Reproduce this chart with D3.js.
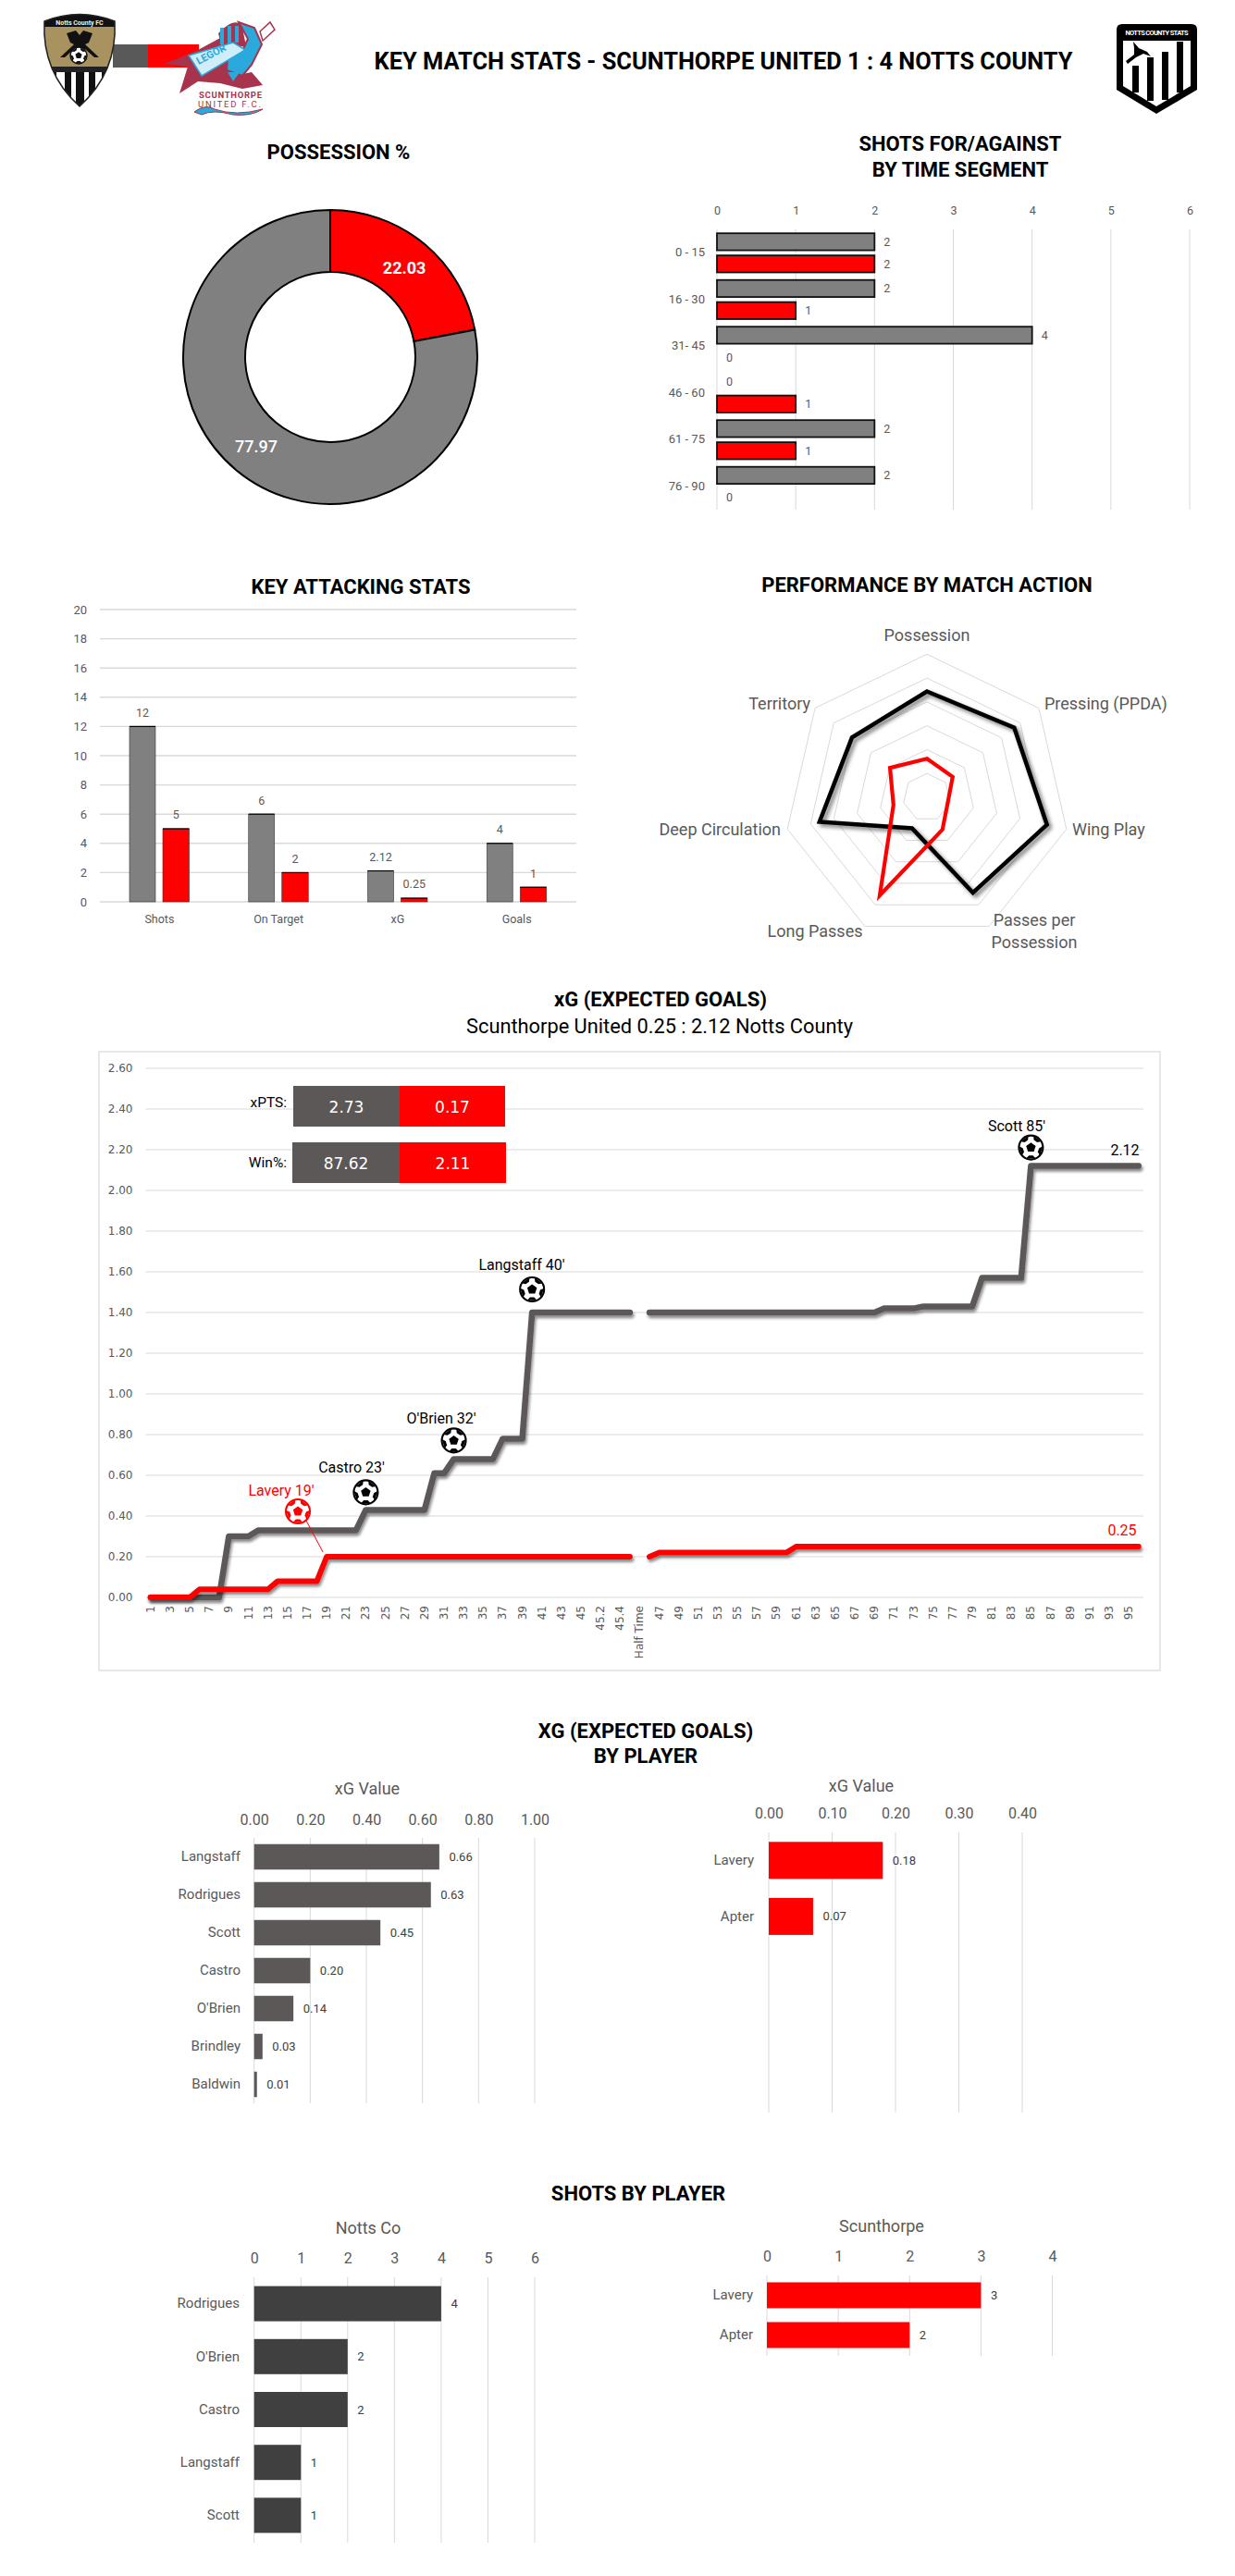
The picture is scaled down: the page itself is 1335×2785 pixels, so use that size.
<!DOCTYPE html>
<html><head><meta charset="utf-8">
<script src="https://cdn.jsdelivr.net/npm/d3@7/dist/d3.min.js"></script>
<style>
html,body{margin:0;padding:0;background:#fff}
svg{display:block}
text{font-family:Roboto,sans-serif}
</style></head><body>
<svg id="c" width="1335" height="2785"></svg>
<script>
// ---- data ----
const matchTitle = "KEY MATCH STATS - SCUNTHORPE UNITED 1 : 4 NOTTS COUNTY";
const possessionLabels = ["Scunthorpe","Notts County"];
const possessionValues = [22.03,77.97];
const segmentCats = ["0 - 15","16 - 30","31- 45","46 - 60","61 - 75","76 - 90"];
const segmentFor = [2,2,4,0,2,2];
const segmentAgainst = [2,1,0,1,1,0];
const segmentTicks = [0,1,2,3,4,5,6];
const attackCats = ["Shots","On Target","xG","Goals"];
const attackNotts = [12,6,2.12,4];
const attackScun = [5,2,0.25,1];
const attackTicks = [0,2,4,6,8,10,12,14,16,18,20];
const radarCats = ["Possession","Pressing (PPDA)","Wing Play","Passes per|Possession","Long Passes","Deep Circulation","Territory"];
const radarNotts = [74,78,86,74,24,77,67];
const radarScun = [27,23,15,25,76,24,33];
const radarRings = [1,2,3,4,5,6];
const minuteLabels = [
"1","2","3","4","5","6","7","8","9","10","11","12","13","14","15","16","17","18","19","20","21","22","23","24","25","26","27","28","29","30","31","32","33","34","35","36","37","38","39","40","41","42","43","44","45",
"45.1","45.2","45.3","45.4","45.5","Half Time",
"46","47","48","49","50","51","52","53","54","55","56","57","58","59","60","61","62","63","64","65","66","67","68","69","70","71","72","73","74","75","76","77","78","79","80","81","82","83","84","85","86","87","88","89","90","91","92","93","94","95","96"];
const xgNotts = [
0,0,0,0,0,0,0,0,.30,.30,.30,.33,.33,.33,.33,.33,.33,.33,.33,.33,.33,.33,.43,.43,.43,.43,.43,.43,.43,.61,.61,.68,.68,.68,.68,.68,.78,.78,.78,1.40,1.40,1.40,1.40,1.40,1.40,
1.40,1.40,1.40,1.40,1.40,null,
1.40,1.40,1.40,1.40,1.40,1.40,1.40,1.40,1.40,1.40,1.40,1.40,1.40,1.40,1.40,1.40,1.40,1.40,1.40,1.40,1.40,1.40,1.40,1.40,1.42,1.42,1.42,1.42,1.43,1.43,1.43,1.43,1.43,1.43,1.57,1.57,1.57,1.57,1.57,2.12,2.12,2.12,2.12,2.12,2.12,2.12,2.12,2.12,2.12,2.12,2.12];
const xgScun = [
0,0,0,0,0,
.04,.04,.04,.04,.04,.04,.04,.04,
.08,.08,.08,.08,.08,
.20,.20,.20,.20,.20,.20,.20,.20,.20,.20,.20,.20,.20,.20,.20,.20,.20,.20,.20,.20,.20,.20,.20,.20,.20,.20,.20,
.20,.20,.20,.20,.20,null,
.20,
.22,.22,.22,.22,.22,.22,.22,.22,.22,.22,.22,.22,.22,.22,
.25,.25,.25,.25,.25,.25,.25,.25,.25,.25,.25,.25,.25,.25,.25,.25,.25,.25,
.25,.25,.25,.25,.25,.25,.25,.25,.25,.25,.25,.25,.25,.25,.25,.25,.25,.25];
const xgTicks = [0,.2,.4,.6,.8,1,1.2,1.4,1.6,1.8,2,2.2,2.4,2.6];
const goalNames = ["Langstaff 40'","O'Brien 32'","Castro 23'","Scott 85'"];
const goalMinutes = ["40","32","23","85"];
const xpts = [2.73,0.17];
const winPct = [87.62,2.11];
const xgPlayersN = ["Langstaff","Rodrigues","Scott","Castro","O'Brien","Brindley","Baldwin"];
const xgPlayerValsN = [.66,.63,.45,.20,.14,.03,.01];
const xgPlayersS = ["Lavery","Apter"];
const xgPlayerValsS = [.18,.07];
const shotPlayersN = ["Rodrigues","O'Brien","Castro","Langstaff","Scott"];
const shotValsN = [4,2,2,1,1];
const shotPlayersS = ["Lavery","Apter"];
const shotValsS = [3,2];

const GREY="#808080", DGREY="#5d5858", DARK="#404040", RED="#ff0000", TXT="#595959", GRID="#d9d9d9";
const svg=d3.select("#c");
const defs=svg.append("defs");
const f=defs.append("filter").attr("id","sh").attr("filterUnits","userSpaceOnUse").attr("x",0).attr("y",0).attr("width",1335).attr("height",2785);
f.append("feDropShadow").attr("dx",1.5).attr("dy",3).attr("stdDeviation",1.6).attr("flood-color","#000").attr("flood-opacity",.45);
const fr=defs.append("filter").attr("id","shR").attr("x","-20%").attr("y","-20%").attr("width","140%").attr("height","140%");
fr.append("feDropShadow").attr("dx",3).attr("dy",3).attr("stdDeviation",2).attr("flood-color","#000").attr("flood-opacity",.5);

function T(x,y,s,size,opt={}){
  return svg.append("text").attr("x",x).attr("y",y).attr("dy",".35em").text(s)
   .attr("font-size",size).attr("fill",opt.fill||TXT).attr("text-anchor",opt.anchor||"middle")
   .attr("font-weight",opt.weight||400).style("font-family",opt.family||null);
}
function title(x,y,s,size=22){return T(x,y,s,size,{fill:"#000",weight:700});}
function ball(sel,cx,cy,r,col){
 const b=sel.append("g").attr("transform",`translate(${cx},${cy})`);
 b.append("circle").attr("r",r).attr("fill","#fff").attr("stroke",col).attr("stroke-width",r*.16);
 const pt=(rad,a)=>[rad*Math.sin(a),-rad*Math.cos(a)];
 const cen=d3.range(5).map(i=>pt(r*.42,i*2*Math.PI/5));
 b.append("polygon").attr("points",cen.join(" ")).attr("fill",col);
 d3.range(5).forEach(i=>{
  const a=i*2*Math.PI/5+Math.PI/5, s=.42;
  b.append("polygon").attr("points",[pt(r,a-s),pt(r*.68,a-s*.6),pt(r*.68,a+s*.6),pt(r,a+s)].join(" ")).attr("fill",col);
 });
}

// ---- header ----
title(782,66,matchTitle,25.4);
const lg=svg.append("g").attr("class","logos");
lg.append("rect").attr("x",122).attr("y",48).attr("width",38).attr("height",25).attr("fill","#595959");
lg.append("rect").attr("x",160).attr("y",48).attr("width",55).attr("height",25).attr("fill",RED);
const shield="M48,23 Q86,8 124,23 Q127,78 86,115 Q45,78 48,23Z";
defs.append("clipPath").attr("id","shc").append("path").attr("d",shield);
lg.append("path").attr("d",shield).attr("fill","#a8925f");
const cg=lg.append("g").attr("clip-path","url(#shc)");
cg.append("rect").attr("x",40).attr("y",10).attr("width",90).attr("height",19).attr("fill","#111");
cg.append("rect").attr("x",40).attr("y",76).attr("width",90).attr("height",45).attr("fill","#fff");
[54,70,82,96,110].forEach((x,i)=>cg.append("rect").attr("x",x).attr("y",76).attr("width",i==2?9:7).attr("height",45).attr("fill","#111"));
cg.append("rect").attr("x",40).attr("y",72).attr("width",90).attr("height",6).attr("fill","#222");
lg.append("path").attr("d",shield).attr("fill","none").attr("stroke","#222").attr("stroke-width",1.5);
lg.append("text").attr("x",86).attr("y",27).attr("text-anchor","middle").attr("font-size",7).attr("font-weight",700).attr("fill","#eee").text("Notts County FC");
lg.append("path").attr("d","M72,36 L82,33 L86,38 L90,33 L100,36 L96,46 L92,48 L107,62 L102,62 L92,53 L80,53 L70,62 L65,62 L80,48 L76,46Z").attr("fill","#111");
ball(lg,85,60,9,"#111");
const M="#a8334d",B="#2aa9dc";
lg.append("path").attr("d","M178,69 L214,54 L240,40 L246,70 L262,80 L272,78 L284,92 L262,96 L238,90 L214,88 L194,101 L203,72Z").attr("fill",M);
lg.append("path").attr("d","M258,24 L275,30 L283,48 L272,70 L262,82 L245,76 L246,62 L262,55 L268,42 Z").attr("fill",B).attr("stroke",M).attr("stroke-width",2);
lg.append("path").attr("d","M236,36 Q255,16 262,30 L266,50 L240,52Z").attr("fill",M);
lg.append("path").attr("d","M240,30 v18 M248,28 v20 M256,28 v18").attr("stroke",B).attr("stroke-width",4);
lg.append("path").attr("d","M281,34 L292,24 L297,32 L284,44Z").attr("fill","#fff").attr("stroke",M).attr("stroke-width",1.5);
lg.append("path").attr("d","M204,60 L252,46 L265,54 L218,82Z").attr("fill","#cfeefa").attr("stroke",B).attr("stroke-width",1.5);
lg.append("text").attr("x",230).attr("y",62).attr("transform","rotate(-28 230 62)").attr("text-anchor","middle").attr("font-size",11).attr("fill",B).attr("font-weight",700).text("LEGOR");
lg.append("path").attr("d","M246,78 L259,78 L252,88Z").attr("fill",B);
lg.append("text").attr("x",215).attr("y",106).attr("font-size",9.5).attr("font-weight",700).attr("fill",M).attr("textLength",68).text("SCUNTHORPE");
lg.append("text").attr("x",214).attr("y",116).attr("font-size",9.5).attr("fill",M).attr("textLength",68).text("UNITED  F.C.");
lg.append("path").attr("d","M210,121 Q222,112 232,118 Q255,126 284,118 Q272,126 252,124 Q230,118 218,124Z").attr("fill",B).attr("stroke",M);
const rl=svg.append("g");
rl.append("path").attr("d","M1207,32 Q1207,26 1213,26 L1288,26 Q1294,26 1294,32 L1294,97 L1250,123 L1207,97Z").attr("fill","#000");
rl.append("path").attr("d","M1214,44 L1287,44 L1287,93 L1250,115 L1214,93Z").attr("fill","#fff");
[[1224,71,29],[1240,62,47],[1256,56,52],[1272,45,55]].forEach(d=>rl.append("rect").attr("x",d[0]).attr("y",d[1]).attr("width",7).attr("height",d[2]).attr("fill","#000"));
rl.append("path").attr("d","M1225,45 L1231,52 L1240,56 L1244,61 L1236,58 L1228,62 L1219,69 L1217,66 L1226,59 L1226,52Z").attr("fill","#000");
rl.append("text").attr("x",1250.5).attr("y",38).attr("text-anchor","middle").attr("font-size",7.5).attr("font-weight",700).attr("fill","#fff").attr("textLength",68).text("NOTTS COUNTY STATS");

// ---- possession donut ----
title(366,164,"POSSESSION  %",22);
const pie=d3.pie().sort(null).value(d=>d);
const arc=d3.arc().innerRadius(92).outerRadius(159);
const dg=svg.append("g").attr("transform","translate(357,386)");
dg.selectAll("path").data(pie(possessionValues)).join("path").attr("d",arc)
  .attr("fill",(d,i)=>i?GREY:RED).attr("stroke","#000").attr("stroke-width",2);
dg.selectAll("text").data(pie(possessionValues)).join("text")
  .attr("transform",d=>`translate(${arc.centroid(d)})`).attr("dy",".35em").attr("text-anchor","middle")
  .attr("fill","#fff").attr("font-size",18).attr("font-weight",(d,i)=>i?500:700).text(d=>d.data.toFixed(2));

// ---- shots by segment ----
title(1038,155,"SHOTS FOR/AGAINST",22);
title(1038,183,"BY TIME SEGMENT",22);
(function(){
 const x=d3.scaleLinear().domain([0,6]).range([775,1286]);
 const y=d3.scaleBand().domain(segmentCats).range([248,551]);
 const y2=d3.scaleBand().domain([0,1]).range([4.2,46.5]).paddingInner(.23);
 const g=svg.append("g");
 g.selectAll("line").data(segmentTicks).join("line").attr("x1",x).attr("x2",x).attr("y1",248).attr("y2",551).attr("stroke",GRID);
 const ax=g.append("g").attr("transform","translate(0,228)").call(d3.axisTop(x).tickValues(segmentTicks).tickFormat(d3.format("d")).tickSize(0).tickPadding(0));
 ax.select(".domain").remove(); ax.selectAll("text").attr("font-size",12.5).attr("fill",TXT).attr("dy",".35em").style("font-family","Roboto");
 const ay=g.append("g").attr("transform","translate(775,0)").call(d3.axisLeft(y).tickSize(0).tickPadding(13));
 ay.select(".domain").remove(); ay.selectAll("text").attr("font-size",13).attr("fill",TXT).style("font-family","Roboto");
 [[segmentFor,GREY,0],[segmentAgainst,RED,1]].forEach(([vals,col,k])=>{
  segmentCats.forEach((c,i)=>{
   const yy=y(c)+y2(k), v=vals[i];
   if(v>0) g.append("rect").attr("x",x(0)).attr("y",yy).attr("width",x(v)-x(0)).attr("height",y2.bandwidth()).attr("fill",col).attr("stroke","#111").attr("stroke-width",1.8);
   g.append("text").attr("x",x(v)+10).attr("y",yy+y2.bandwidth()/2).attr("dy",".35em").attr("font-size",12.5).attr("fill",TXT).text(v);
  });
 });
})();

// ---- key attacking ----
title(390,634,"KEY ATTACKING STATS",22);
(function(){
 const x=d3.scaleBand().domain(attackCats).range([108,623]);
 const y=d3.scaleLinear().domain([0,20]).range([975,659]);
 const g=svg.append("g");
 g.selectAll("line").data(attackTicks).join("line").attr("x1",108).attr("x2",623).attr("y1",y).attr("y2",y).attr("stroke",GRID).attr("stroke-width",1.4);
 const ay=g.append("g").attr("transform","translate(108,0)").call(d3.axisLeft(y).tickValues(attackTicks).tickSize(0).tickPadding(14));
 ay.select(".domain").remove(); ay.selectAll("text").attr("font-size",13).attr("fill",TXT).style("font-family","Roboto");
 const ax=g.append("g").attr("transform","translate(0,975)").call(d3.axisBottom(x).tickSize(0).tickPadding(14));
 ax.select(".domain").remove(); ax.selectAll("text").attr("font-size",12.5).attr("fill",TXT).style("font-family","Roboto");
 [[attackNotts,GREY,32,28],[attackScun,RED,68,28.5]].forEach(([vals,col,off,w])=>{
  attackCats.forEach((c,i)=>{
   const bx=x(c)+off, v=vals[i];
   g.append("rect").attr("x",bx).attr("y",y(v)).attr("width",w).attr("height",975-y(v)).attr("fill",col).attr("stroke","#333").attr("stroke-width",.6);
   g.append("line").attr("x1",bx).attr("x2",bx+w).attr("y1",y(v)).attr("y2",y(v)).attr("stroke","#000").attr("stroke-width",1.2);
   g.append("text").attr("x",bx+w/2).attr("y",y(v)-15).attr("dy",".35em").attr("text-anchor","middle").attr("font-size",12.5).attr("fill",TXT).text(v);
  });
 });
})();

// ---- radar ----
title(1002,632,"PERFORMANCE BY MATCH ACTION",22);
(function(){
 const cx=1002,cy=862,R=154.7,n=radarCats.length;
 const ang=i=>i*2*Math.PI/n;
 const rr=d3.scaleLinear().domain([0,100]).range([0,R]);
 const rring=d3.scaleLinear().domain([0,6]).range([0,R]);
 const g=svg.append("g").attr("transform",`translate(${cx},${cy})`);
 const lr=d3.lineRadial().curve(d3.curveLinearClosed);
 radarRings.forEach(k=>g.append("path").attr("d",lr(radarCats.map((c,i)=>[ang(i),rring(k)]))).attr("fill","none").attr("stroke",GRID).attr("stroke-width",1));
 g.append("path").attr("d",lr(radarNotts.map((v,i)=>[ang(i),rr(v)]))).attr("fill","none").attr("stroke","#000").attr("stroke-width",4.5).attr("filter","url(#shR)");
 g.append("path").attr("d",lr(radarScun.map((v,i)=>[ang(i),rr(v)]))).attr("fill","none").attr("stroke",RED).attr("stroke-width",4.2);
 const pos=[[1002,687,"middle"],[1129,761,"start"],[1159,897,"start"],[1118,995,"middle"],[881,1007,"middle"],[844,897,"end"],[876,761,"end"]];
 radarCats.forEach((c,i)=>{
  c.split("|").forEach((s,j)=>T(pos[i][0],pos[i][1]+j*24,s,18,{anchor:pos[i][2]}));
 });
})();

// ---- xG timeline ----
title(714,1080,"xG (EXPECTED GOALS)",22);
T(713,1109,"Scunthorpe United 0.25 : 2.12 Notts County",21.8,{fill:"#000"});
(function(){
 const dj="'DejaVu Sans'";
 const g=svg.append("g");
 g.append("rect").attr("x",107).attr("y",1137).attr("width",1147).attr("height",669).attr("fill","#fff").attr("stroke",GRID).attr("stroke-width",1.2);
 const x=d3.scaleBand().domain(minuteLabels).range([157.5,1236]);
 const px=m=>x(m)+x.bandwidth()/2;
 const y=d3.scaleLinear().domain([0,2.6]).range([1727,1155]);
 g.selectAll("line.g").data(xgTicks).join("line").attr("class","g").attr("x1",157.5).attr("x2",1236).attr("y1",y).attr("y2",y).attr("stroke",GRID).attr("stroke-width",1);
 const ay=g.append("g").attr("transform","translate(157.5,0)").call(d3.axisLeft(y).tickValues(xgTicks).tickFormat(d3.format(".2f")).tickSize(0).tickPadding(14));
 ay.select(".domain").remove(); ay.selectAll("text").attr("font-size",12).attr("fill",TXT).style("font-family",dj);
 const ax=g.append("g").attr("transform","translate(0,1727)").call(d3.axisBottom(x).tickValues(minuteLabels.filter((d,i)=>i%2==0)).tickSize(0).tickPadding(0));
 ax.select(".domain").remove();
 ax.selectAll("text").attr("font-size",12).attr("fill",TXT).style("font-family",dj).attr("text-anchor","end").attr("dy",0)
   .attr("transform","rotate(-90) translate(-9,4)").attr("x",0).attr("y",0);
 const line=d3.line().defined(d=>d[1]!=null).x(d=>px(d[0])).y(d=>y(d[1]));
 [[xgNotts,DGREY],[xgScun,RED]].forEach(([vals,col])=>{
  g.append("path").attr("d",line(minuteLabels.map((m,i)=>[m,vals[i]]))).attr("fill","none").attr("stroke",col).attr("stroke-width",col==RED?6:6.5).attr("stroke-linecap","round").attr("stroke-linejoin","round").attr("filter","url(#sh)");
 });
 [["xPTS:",xpts,1174,44,317,432,546],["Win%:",winPct,1235,44,316,432,547]].forEach(([lab,v,yy,h,x0,x1,x2])=>{
  g.append("rect").attr("x",x0).attr("y",yy).attr("width",x1-x0).attr("height",h).attr("fill",DGREY);
  g.append("rect").attr("x",x1).attr("y",yy).attr("width",x2-x1).attr("height",h).attr("fill",RED);
  T((x0+x1)/2,yy+h/2+1,v[0].toFixed(2),17,{fill:"#fff",family:dj});
  T((x1+x2)/2,yy+h/2+1,v[1].toFixed(2),17,{fill:"#fff",family:dj});
  T(310,lab=="xPTS:"?1192:1257,lab,15.5,{fill:"#000",anchor:"end"});
 });
 const tx=[564,477,380,1099], ty=[1367,1533,1586,1217], off=[25,20,19,20];
 goalNames.forEach((s,i)=>{
  T(tx[i],ty[i],s,16,{fill:"#000"});
  const m=goalMinutes[i], idx=minuteLabels.indexOf(m);
  ball(svg,px(m),y(xgNotts[idx])-off[i],13,"#000");
 });
 T(304,1611,"Lavery 19'",16,{fill:RED});
 svg.append("line").attr("x1",331).attr("y1",1644).attr("x2",px("19")-4).attr("y2",y(.20)-5).attr("stroke",RED).attr("stroke-width",1);
 ball(svg,322,1634,13,RED);
 T(1216,1243,"2.12",16,{fill:"#000"});
 T(1213,1654,"0.25",16,{fill:RED});
})();

// ---- horizontal bar panels ----
function hbar(o){
 const x=d3.scaleLinear().domain([0,o.max]).range([o.x0,o.x1]);
 const y=d3.scaleBand().domain(o.cats).range([o.y0,o.y0+o.band*o.cats.length]);
 const g=svg.append("g");
 g.selectAll("line").data(o.ticks).join("line").attr("x1",x).attr("x2",x).attr("y1",o.y0).attr("y2",o.y1).attr("stroke",GRID);
 const ax=g.append("g").attr("transform",`translate(0,${o.tickY})`).call(d3.axisTop(x).tickValues(o.ticks).tickFormat(o.fmt).tickSize(0).tickPadding(0));
 ax.select(".domain").remove(); ax.selectAll("text").attr("font-size",16).attr("fill",TXT).attr("dy",".35em").style("font-family","Roboto");
 const ay=g.append("g").attr("transform",`translate(${o.x0},0)`).call(d3.axisLeft(y).tickSize(0).tickPadding(o.x0-o.labX));
 ay.select(".domain").remove(); ay.selectAll("text").attr("font-size",15).attr("fill",TXT).style("font-family","Roboto");
 const bh=o.barH;
 g.selectAll("rect").data(o.vals).join("rect").attr("x",o.x0).attr("y",(d,i)=>y(o.cats[i])+(o.band-bh)/2).attr("width",d=>x(d)-o.x0).attr("height",bh).attr("fill",o.col);
 g.selectAll("text.v").data(o.vals).join("text").attr("class","v").attr("x",d=>x(d)+10.5).attr("y",(d,i)=>y(o.cats[i])+o.band/2).attr("dy",".35em").attr("font-size",13).attr("fill","#404040").text(o.vfmt);
 T(o.titleX,o.titleY,o.title,18);
}
title(698,1871,"XG (EXPECTED GOALS)",22);
title(698,1898,"BY PLAYER",22);
const f2=d3.format(".2f");
hbar({cats:xgPlayersN,vals:xgPlayerValsN,max:1,ticks:[0,.2,.4,.6,.8,1],fmt:f2,vfmt:f2,x0:274.7,x1:578,y0:1987,y1:2274,band:41,barH:27.5,col:DGREY,tickY:1967,labX:260,title:"xG Value",titleX:397,titleY:1934});
hbar({cats:xgPlayersS,vals:xgPlayerValsS,max:.4,ticks:[0,.1,.2,.3,.4],fmt:f2,vfmt:f2,x0:831,x1:1105,y0:1981,y1:2284,band:60.6,barH:40,col:RED,tickY:1960,labX:815,title:"xG Value",titleX:931,titleY:1931});
title(690,2371,"SHOTS BY PLAYER",22);
const f0=d3.format("d");
hbar({cats:shotPlayersN,vals:shotValsN,max:6,ticks:[0,1,2,3,4,5,6],fmt:f0,vfmt:f0,x0:274.7,x1:578,y0:2462,y1:2749,band:57.2,barH:38,col:DARK,tickY:2441,labX:259,title:"Notts Co",titleX:398,titleY:2409});
hbar({cats:shotPlayersS,vals:shotValsS,max:4,ticks:[0,1,2,3,4],fmt:f0,vfmt:f0,x0:829,x1:1137.5,y0:2460,y1:2547,band:43,barH:28,col:RED,tickY:2439,labX:814,title:"Scunthorpe",titleX:953,titleY:2407});
</script>
</body></html>
